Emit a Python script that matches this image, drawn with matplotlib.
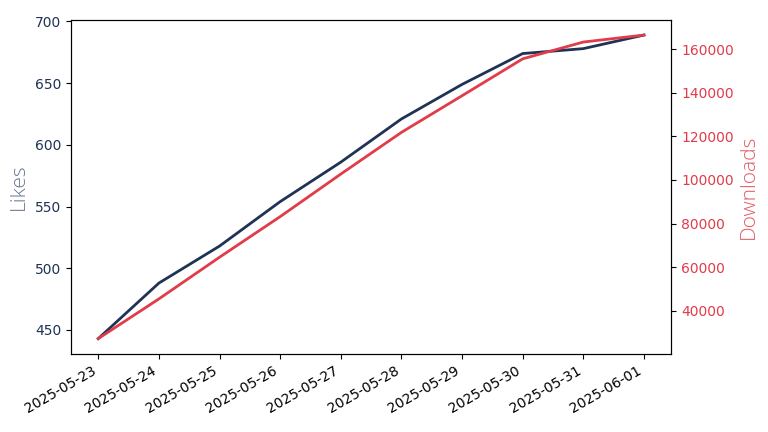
import pandas as pd
import matplotlib.pyplot as plt
import matplotlib.dates as mdates

dates = pd.date_range("2025-05-23", "2025-06-01", freq="D")
likes = [443, 488, 518, 554, 586, 621, 649, 674, 678, 689]
downloads = [27300, 45500, 64600, 83200, 102700, 121800, 138600, 155500, 163200, 166400]

navy = "#1f3354"
red = "#e03c4a"

fig, ax1 = plt.subplots(figsize=(7.68, 4.32), dpi=100)

ax1.plot(dates, likes, color=navy, linewidth=2)
ax1.set_ylabel("Likes", color="#6a7891", fontsize=15, family="Open Sans", fontweight="light")
ax1.tick_params(axis="y", labelcolor=navy)

ax2 = ax1.twinx()
ax2.plot(dates, downloads, color=red, linewidth=2)
ax2.set_ylabel("Downloads", color="#e25a66", fontsize=15, family="Open Sans", fontweight="light")
ax2.tick_params(axis="y", labelcolor=red)

ax1.xaxis.set_major_locator(mdates.DayLocator())
ax1.xaxis.set_major_formatter(mdates.DateFormatter("%Y-%m-%d"))
fig.autofmt_xdate()
fig.subplots_adjust(left=0.0924, right=0.874, top=0.954, bottom=0.181)

plt.savefig("out.png")
